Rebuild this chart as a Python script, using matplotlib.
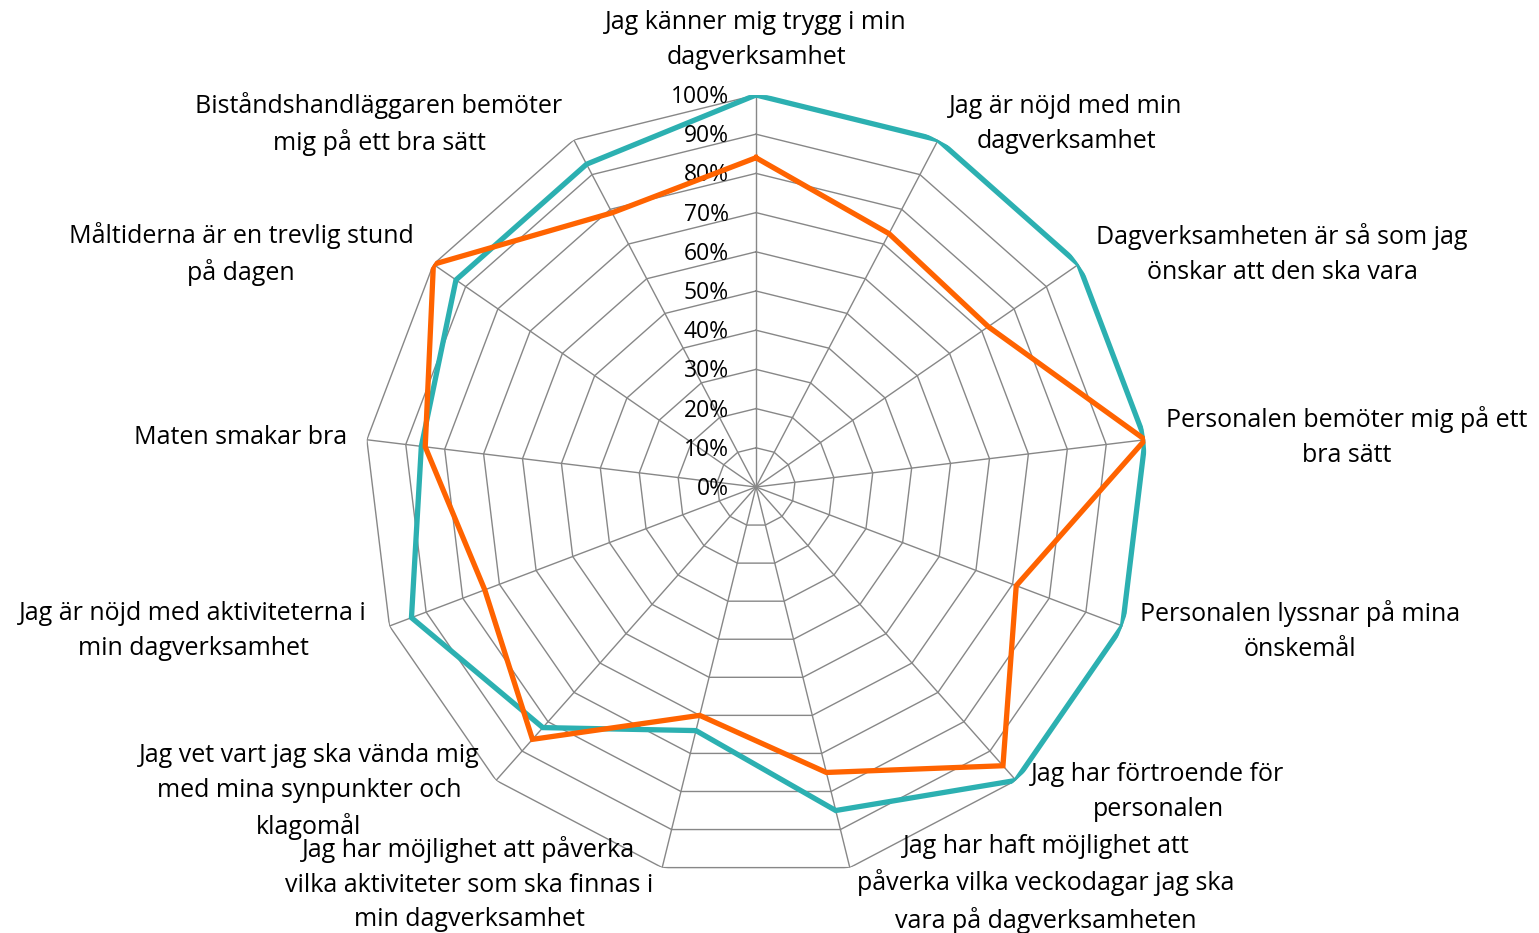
import numpy as np
import matplotlib
matplotlib.use("Agg")
import matplotlib.pyplot as plt

plt.rcParams['font.family'] = ['Open Sans', 'DejaVu Sans']

categories = [
    "Jag känner mig trygg i min\ndagverksamhet",
    "Jag är nöjd med min\ndagverksamhet",
    "Dagverksamheten är så som jag\nönskar att den ska vara",
    "Personalen bemöter mig på ett\nbra sätt",
    "Personalen lyssnar på mina\nönskemål",
    "Jag har förtroende för\npersonalen",
    "Jag har haft möjlighet att\npåverka vilka veckodagar jag ska\nvara på dagverksamheten",
    "Jag har möjlighet att påverka\nvilka aktiviteter som ska finnas i\nmin dagverksamhet",
    "Jag vet vart jag ska vända mig\nmed mina synpunkter och\nklagomål",
    "Jag är nöjd med aktiviteterna i\nmin dagverksamhet",
    "Maten smakar bra",
    "Måltiderna är en trevlig stund\npå dagen",
    "Biståndshandläggaren bemöter\nmig på ett bra sätt",
]
teal_vals = [100, 100, 100, 100, 100, 100, 85, 64, 82, 94, 86, 93, 93]
orange_vals = [84, 73, 72, 100, 71, 95, 75, 60, 86, 74, 85, 100, 79]
ticks = [0, 10, 20, 30, 40, 50, 60, 70, 80, 90, 100]

# label centres in pixels (layout only)
label_xy = [(756, 40), (1066, 124), (1282, 254), (1347, 437), (1300, 631),
            (1158, 792), (1046, 884), (469, 884), (309, 792), (193, 631),
            (241, 437), (241, 254), (379, 124)]

W, H = 1539, 933
fig = plt.figure(figsize=(W / 100, H / 100), dpi=100)
cx, cy, R = 756, 487, 392
ax = fig.add_axes([(cx - R) / W, (H - cy - R) / H, 2 * R / W, 2 * R / H], projection='polar')
ax.set_theta_offset(np.pi / 2)
ax.set_theta_direction(-1)
ax.set_ylim(0, 100)
ax.grid(False)
ax.spines['polar'].set_visible(False)
ax.set_xticks([])
ax.set_yticks([])
ax.patch.set_alpha(0)

n = len(categories)
ang = np.linspace(0, 2 * np.pi, n, endpoint=False)
ang_c = np.append(ang, ang[0])

grid_col = '#878787'
for t in ticks[1:]:
    ax.plot(ang_c, [t] * (n + 1), color=grid_col, lw=1.0, zorder=1)
for a in ang:
    ax.plot([a, a], [0, 100], color=grid_col, lw=1.0, zorder=1)

ax.plot(ang_c, teal_vals + teal_vals[:1], color='#2CB0B1', lw=3.8, zorder=3,
        solid_joinstyle='miter')
ax.plot(ang_c, orange_vals + orange_vals[:1], color='#FF6300', lw=3.8, zorder=4,
        solid_joinstyle='miter')

for t in ticks:
    ax.annotate(f"{t}%", xy=(0, t), xytext=(-27, -2), textcoords='offset pixels',
                ha='right', va='center', fontsize=16.5, color='#000000')

for lab, (x, y) in zip(categories, label_xy):
    fig.text(x / W, 1 - y / H, lab, ha='center', va='center', fontsize=18,
             linespacing=1.5, color='#000000')

fig.savefig("out.png", dpi=100)
